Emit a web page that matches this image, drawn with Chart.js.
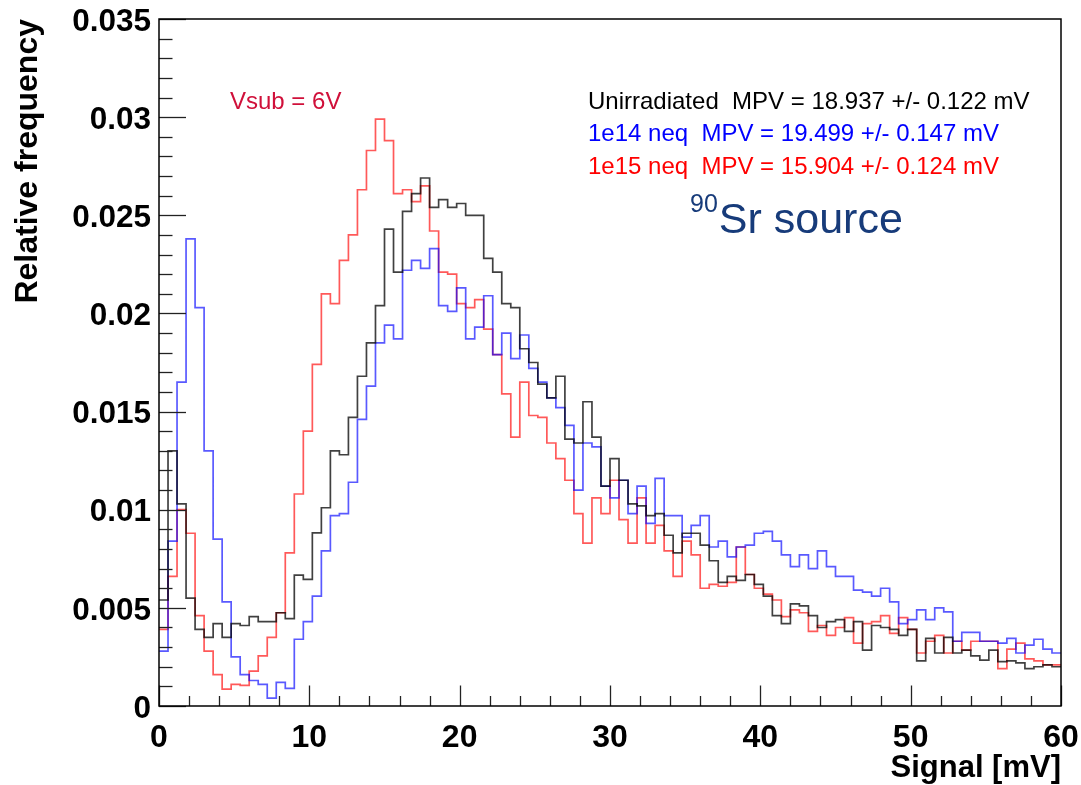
<!DOCTYPE html>
<html>
<head>
<meta charset="utf-8">
<script src="https://cdn.jsdelivr.net/npm/chart.js@4.4.1/dist/chart.umd.min.js"></script>
<style>
  html, body { margin: 0; padding: 0; background: #ffffff; }
  #wrap { width: 1081px; height: 785px; position: relative; }
  canvas { display: block; }
</style>
</head>
<body>
<div id="wrap"><canvas id="c" width="1081" height="785"></canvas></div>
<script>
// ---- Histogram binning (signal axis, mV) ----
const xMin = 0;
const xMax = 60;
const nBins = 100;

// ---- Series values: relative frequency per bin ----
const unirradiated = [
  0.0054, 0.0130, 0.0103, 0.0055, 0.0039, 0.0035, 0.0042, 0.0035, 0.0042, 0.0041,
  0.00455, 0.0043, 0.0043, 0.00475, 0.00445, 0.00667, 0.00645, 0.00882, 0.0101, 0.0130,
  0.0128, 0.0147, 0.0168, 0.0185, 0.0204, 0.0243, 0.0221, 0.0252, 0.0261, 0.0269,
  0.0254, 0.0258, 0.0254, 0.0256, 0.0250, 0.0250, 0.0228, 0.0221, 0.0205, 0.0203,
  0.0182, 0.0175, 0.0164, 0.0157, 0.0168, 0.0136, 0.0134, 0.0155, 0.0137, 0.0112,
  0.0126, 0.0115, 0.0103, 0.0102, 0.0097, 0.0098, 0.0087, 0.0078, 0.0088, 0.0088,
  0.0082, 0.0074, 0.0063, 0.0066, 0.0064, 0.0067, 0.0062, 0.0056, 0.0046, 0.0042,
  0.0052, 0.0051, 0.0046, 0.0040, 0.0043, 0.0044, 0.0038, 0.0043, 0.00285, 0.0041,
  0.0040, 0.0039, 0.0036, 0.0039, 0.0023, 0.00345, 0.0027, 0.0035, 0.0027, 0.00285,
  0.00255, 0.00234, 0.00285, 0.00226, 0.0023, 0.0022, 0.0019, 0.0020, 0.0021, 0.0020
];
const neq1e14 = [
  0.0028, 0.0084, 0.0165, 0.0238, 0.0203, 0.0130, 0.0085, 0.0053, 0.0025, 0.0016,
  0.0013, 0.0011, 0.0004, 0.0012, 0.0009, 0.0034, 0.0043, 0.0056, 0.0079, 0.0097,
  0.0098, 0.0114, 0.0146, 0.0163, 0.0185, 0.0194, 0.0187, 0.0222, 0.0227, 0.0223,
  0.0233, 0.0204, 0.0201, 0.0213, 0.0187, 0.0193, 0.0209, 0.0179, 0.0190, 0.0177,
  0.0189, 0.0172, 0.0165, 0.0157, 0.0152, 0.0143, 0.0110, 0.0134, 0.0132, 0.0112,
  0.0106, 0.0115, 0.0098, 0.0112, 0.0093, 0.0116, 0.0097, 0.0097, 0.0086, 0.0092,
  0.0097, 0.0081, 0.0084, 0.0076, 0.0081, 0.0082, 0.0088, 0.0089, 0.0084, 0.0077,
  0.0071, 0.0077, 0.0070, 0.0079, 0.0071, 0.0066, 0.0066, 0.0059, 0.0058, 0.0056,
  0.0060, 0.0053, 0.0042, 0.0044, 0.0049, 0.0044, 0.0050, 0.0048, 0.0033, 0.00375,
  0.00375, 0.0033, 0.0033, 0.0032, 0.00345, 0.0027, 0.0031, 0.0034, 0.0029, 0.0027
];
const neq1e15 = [
  0.0039, 0.0066, 0.0100, 0.0088, 0.0046, 0.0028, 0.0016, 0.00086, 0.0011, 0.00105,
  0.00178, 0.00255, 0.0035, 0.00475, 0.0078, 0.0108, 0.0140, 0.0174, 0.0210, 0.0205,
  0.0227, 0.0240, 0.0263, 0.0283, 0.0299, 0.0288, 0.0261, 0.0263, 0.0257, 0.0265,
  0.0242, 0.0221, 0.0220, 0.0205, 0.0203, 0.0207, 0.0192, 0.0179, 0.0159, 0.0137,
  0.0165, 0.0148, 0.0147, 0.0134, 0.0126, 0.0115, 0.0098, 0.0083, 0.0106, 0.0098,
  0.0115, 0.0095, 0.0083, 0.0106, 0.0083, 0.0092, 0.0079, 0.0066, 0.0084, 0.0077,
  0.0060, 0.0062, 0.0061, 0.0063, 0.0081, 0.0067, 0.0060, 0.0057, 0.0054, 0.00455,
  0.0049, 0.00475, 0.0038, 0.0041, 0.0036, 0.0040, 0.0045, 0.0032, 0.0042, 0.0043,
  0.0046, 0.0037, 0.0045, 0.0039, 0.0027, 0.0033, 0.0036, 0.0027, 0.0033, 0.00285,
  0.0033, 0.0033, 0.0033, 0.0019, 0.0029, 0.0032, 0.0024, 0.0023, 0.0021, 0.0021
];

// ---- Axis ticks / labels ----
const yMax = 0.035;
const yMajorStep = 0.005;
const yMinorStep = 0.001;
const xMajorStep = 10;
const xMinorStep = 2;
const xTitle = 'Signal [mV]';
const yTitle = 'Relative frequency';

// ---- Text annotations ----
const seriesLabels = [
  'Unirradiated  MPV = 18.937 +/- 0.122 mV',
  '1e14 neq  MPV = 19.499 +/- 0.147 mV',
  '1e15 neq  MPV = 15.904 +/- 0.124 mV'
];
const voltageLabel = 'Vsub = 6V';
const sourceIsotope = '90';
const sourceLabel = 'Sr source';

// Bin edges from the binning definition
const binEdges = Array.from({ length: nBins + 1 }, (_, i) => xMin + i * (xMax - xMin) / nBins);
// point i sits at the low edge of bin i; a closing point at the upper edge of the last bin
function toSteps(vals) {
  const pts = vals.map((v, i) => ({ x: binEdges[i], y: v }));
  pts.push({ x: binEdges[nBins], y: vals[vals.length - 1] });
  return pts;
}

const FONT = '"Liberation Sans", Arial, Helvetica, sans-serif';

const rootFrame = {
  id: 'rootFrame',
  afterDatasetsDraw(chart) {
    const { ctx, chartArea: a, scales: { x, y } } = chart;
    ctx.save();
    ctx.strokeStyle = '#222';
    ctx.lineWidth = 1.3;
    const nYMinor = Math.round(yMax / yMinorStep);
    for (let i = 0; i <= nYMinor; i++) {
      const v = i * yMinorStep;
      const py = Math.round(y.getPixelForValue(v)) + 0.5;
      const major = (i % Math.round(yMajorStep / yMinorStep)) === 0;
      const len = major ? 27 : 13.5;
      ctx.beginPath();
      ctx.moveTo(a.left, py);
      ctx.lineTo(a.left + len, py);
      ctx.stroke();
    }
    const nXMinor = Math.round((xMax - xMin) / xMinorStep);
    for (let i = 0; i <= nXMinor; i++) {
      const v = xMin + i * xMinorStep;
      const px = Math.round(x.getPixelForValue(v)) + 0.5;
      const major = (i % Math.round(xMajorStep / xMinorStep)) === 0;
      const len = major ? 20.5 : 10;
      ctx.beginPath();
      ctx.moveTo(px, a.bottom);
      ctx.lineTo(px, a.bottom - len);
      ctx.stroke();
    }
    ctx.strokeStyle = '#000';
    ctx.lineWidth = 1.5;
    ctx.strokeRect(a.left, a.top, a.right - a.left, a.bottom - a.top);

    ctx.textBaseline = 'alphabetic';
    ctx.textAlign = 'left';
    ctx.font = '24px ' + FONT;
    ctx.fillStyle = '#d0103a';
    ctx.fillText(voltageLabel, 230, 109);

    const colors = ['#000000', '#0000ff', '#ff0000'];
    const base = [109, 141, 174];
    seriesLabels.forEach((t, i) => {
      ctx.fillStyle = colors[i];
      ctx.fillText(t, 588, base[i]);
    });

    ctx.fillStyle = '#173b7a';
    ctx.font = '25px ' + FONT;
    ctx.fillText(sourceIsotope, 690, 212);
    const w90 = ctx.measureText(sourceIsotope).width;
    ctx.font = '43px ' + FONT;
    ctx.fillText(sourceLabel, 690 + w90 + 1, 233);
    ctx.restore();
  }
};

const ctx = document.getElementById('c').getContext('2d');
new Chart(ctx, {
  type: 'line',
  data: {
    datasets: [
      { label: 'Unirradiated', data: toSteps(unirradiated), borderColor: 'rgba(0,0,0,0.75)' },
      { label: '1e14 neq', data: toSteps(neq1e14), borderColor: 'rgba(0,0,255,0.65)' },
      { label: '1e15 neq', data: toSteps(neq1e15), borderColor: 'rgba(255,0,0,0.65)' }
    ].map(d => Object.assign(d, {
      stepped: 'before', pointRadius: 0, borderWidth: 1.7, fill: false, tension: 0
    }))
  },
  options: {
    responsive: false,
    animation: false,
    devicePixelRatio: 1,
    layout: { padding: { left: 0, right: 20, top: 19, bottom: 0 } },
    plugins: { legend: { display: false }, tooltip: { enabled: false } },
    scales: {
      x: {
        type: 'linear', min: xMin, max: xMax,
        grid: { display: false, drawTicks: false },
        border: { display: false },
        ticks: {
          stepSize: xMajorStep, autoSkip: false, maxRotation: 0, padding: 13,
          color: '#000', font: { family: FONT, size: 32, weight: 'bold' }
        },
        title: {
          display: true, text: xTitle, align: 'end', color: '#000',
          font: { family: FONT, size: 31, weight: 'bold', lineHeight: 1.05 }, padding: { top: 0, bottom: 0 }
        },
        afterFit(s) { s.height = 79; s.paddingLeft = 0; s.paddingRight = 0; }
      },
      y: {
        type: 'linear', min: 0, max: yMax,
        grid: { display: false, drawTicks: false },
        border: { display: false },
        ticks: {
          stepSize: yMajorStep, autoSkip: false, padding: 8, labelOffset: 3,
          color: '#000', font: { family: FONT, size: 31.5, weight: 'bold' },
          callback: v => String(+v.toFixed(3))
        },
        title: {
          display: true, text: yTitle, align: 'end', color: '#000',
          font: { family: FONT, size: 32, weight: 'bold' }, padding: { top: 9, bottom: 0 }
        },
        afterFit(s) { s.width = 159; s.paddingTop = 0; s.paddingBottom = 0; }
      }
    }
  },
  plugins: [rootFrame]
});
</script>
</body>
</html>
